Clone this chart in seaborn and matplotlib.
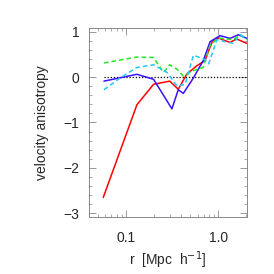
import numpy as np
import pandas as pd
import seaborn as sns
import matplotlib.pyplot as plt
from matplotlib.ticker import FixedLocator, NullFormatter

# radius [Mpc/h] and velocity anisotropy for the four runs
r_red = [0.057, 0.132, 0.20, 0.30, 0.37, 0.46, 0.59, 0.72, 0.86, 1.0, 1.35, 1.58, 2.05]
b_red = [-2.65, -0.61, -0.16, -0.09, -0.27, 0.07, 0.25, 0.36, 0.77, 0.86, 0.76, 0.84, 0.74]

r_blue = [0.058, 0.132, 0.20, 0.316, 0.37, 0.42, 0.54, 0.69, 0.82, 1.05, 1.35, 1.65, 2.05]
b_blue = [-0.09, 0.06, -0.05, -0.70, -0.28, -0.36, -0.02, 0.36, 0.78, 0.91, 0.85, 0.93, 0.85]

r_green = [0.058, 0.132, 0.20, 0.256, 0.30, 0.36, 0.42, 0.54, 0.69, 0.82, 1.0, 1.45, 1.73, 2.05]
b_green = [0.31, 0.44, 0.43, 0.10, 0.27, 0.17, 0.02, 0.14, 0.21, 0.70, 0.86, 0.82, 0.93, 0.82]

r_cyan = [0.058, 0.087, 0.132, 0.20, 0.28, 0.36, 0.44, 0.54, 0.69, 0.79, 0.97, 1.46, 1.73, 2.05]
b_cyan = [-0.28, -0.02, 0.21, 0.27, 0.10, -0.20, -0.16, 0.48, 0.40, 0.29, 0.82, 0.74, 0.93, 0.85]

zero_r = [0.058, 2.05]
zero_b = [0.0, 0.0]

sns.set_style('ticks')
plt.rcParams['font.family'] = ['Liberation Sans', 'DejaVu Sans']

fig = plt.figure(figsize=(2.74, 2.74), dpi=100)
ax = fig.add_axes([0.325, 0.208, 0.576, 0.69])

sns.lineplot(x=zero_r, y=zero_b, ax=ax, color='black', lw=0.9, linestyle=(0, (1, 1.5)))
sns.lineplot(x=r_red, y=b_red, ax=ax, color='#ff0000', lw=1.1, sort=False)
sns.lineplot(x=r_blue, y=b_blue, ax=ax, color='#3a10ff', lw=1.1, sort=False)
sns.lineplot(x=r_green, y=b_green, ax=ax, color='#22e822', lw=1.1, sort=False, linestyle=(0, (3, 2)))
sns.lineplot(x=r_cyan, y=b_cyan, ax=ax, color='#20c8ff', lw=1.1, sort=False, linestyle=(0, (3, 2)))

ax.set_xscale('log')
ax.set_xlim(0.04, 2.05)
ax.set_ylim(-3.08, 1.08)

ax.xaxis.set_major_locator(FixedLocator([0.1, 1.0]))
ax.set_xticklabels(['0.1', '1.0'])
ax.xaxis.set_minor_locator(FixedLocator([0.04, 0.05, 0.06, 0.07, 0.08, 0.09,
                                         0.2, 0.3, 0.4, 0.5, 0.6, 0.7, 0.8, 0.9, 2.0]))
ax.xaxis.set_minor_formatter(NullFormatter())
ax.set_yticks([-3, -2, -1, 0, 1])
ax.set_yticklabels(['\u22123', '\u22122', '\u22121', '0', '1'])
ax.yaxis.set_minor_locator(FixedLocator(np.arange(-3, 1.05, 0.2)))

ax.tick_params(which='both', direction='in', top=True, right=True,
               color='#888888', labelsize=10)
ax.tick_params(axis='x', pad=10)
ax.tick_params(axis='y', pad=7)
ax.tick_params(which='major', length=5, width=0.6)
ax.tick_params(which='minor', length=2.5, width=0.5)
for s in ax.spines.values():
    s.set_color('#888888')
    s.set_linewidth(0.7)

ax.set_xlabel('r  [Mpc  h$^{-1}$]', fontsize=10, labelpad=3)
ax.set_ylabel('velocity anisotropy', fontsize=10, labelpad=10)

fig.savefig('out.png', dpi=100)
